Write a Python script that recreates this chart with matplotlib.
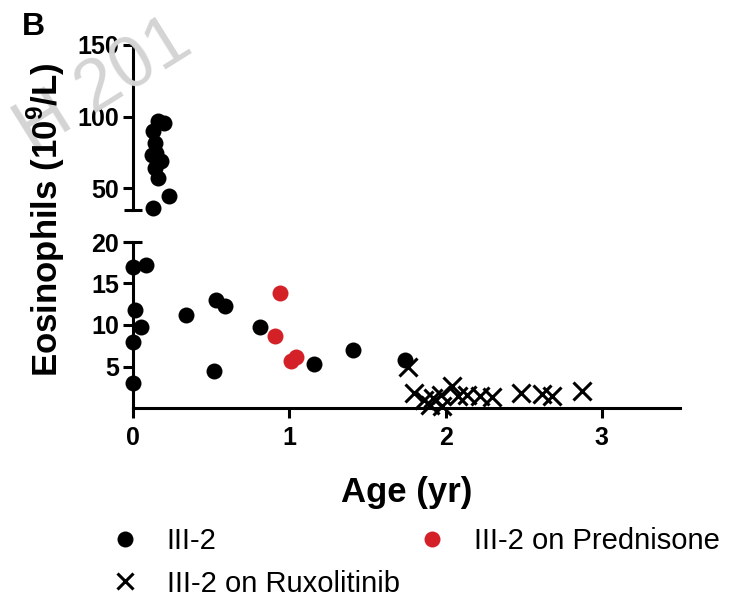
import matplotlib
matplotlib.use("Agg")
import matplotlib.pyplot as plt
from matplotlib.lines import Line2D

plt.rcParams['font.family'] = ['Liberation Sans', 'DejaVu Sans']
plt.rcParams['mathtext.fontset'] = 'custom'
plt.rcParams['mathtext.rm'] = 'Liberation Sans'
plt.rcParams['mathtext.bf'] = 'Liberation Sans:bold'

# ---- data ----
# III-2 (high values, upper segment)
hi_age = [0.16, 0.20, 0.13, 0.14, 0.15, 0.12, 0.18, 0.14, 0.16, 0.23, 0.13]
hi_eos = [96.7, 95.6, 89.8, 81.7, 74.8, 73.6, 69.0, 64.4, 57.4, 44.7, 36.6]
# III-2 (lower segment)
lo_age = [0.00, 0.08, 0.01, 0.05, 0.00, 0.00, 0.34, 0.53, 0.59, 0.52, 0.81, 1.16, 1.41, 1.74]
lo_eos = [17.0, 17.2, 11.8, 9.7, 8.0, 3.0, 11.2, 13.0, 12.3, 4.5, 9.8, 5.3, 7.0, 5.8]
# III-2 on Prednisone
pred_age = [0.94, 0.91, 1.01, 1.04]
pred_eos = [13.9, 8.7, 5.7, 6.2]
# III-2 on Ruxolitinib
rux_age = [1.76, 1.80, 1.86, 1.90, 1.92, 1.97, 1.98, 2.04, 2.08, 2.14, 2.22, 2.30, 2.48, 2.62, 2.68, 2.87]
rux_eos = [5.0, 1.8, 1.0, 0.4, 1.2, 1.6, 0.3, 2.6, 1.4, 1.6, 1.4, 1.3, 1.8, 1.7, 1.4, 2.0]

x_ticks = [0, 1, 2, 3]
lo_ticks = [5, 10, 15, 20]
hi_ticks = [50, 100, 150]
labels = ['III-2', 'III-2 on Prednisone', 'III-2 on Ruxolitinib']

RED = '#d42027'
LW = 2.2
MS = 11.5

fig = plt.figure(figsize=(7.4, 6), dpi=100)
W, H = 740.0, 600.0

# faint watermark (partially visible in the source)
fig.text(104 / W, 1 - 86 / H, 'H 201', fontsize=52, color='#d4d4d4',
         rotation=32, ha='center', va='center', rotation_mode='anchor', zorder=0)

ax_lo = fig.add_axes([133 / W, 1 - 408 / H, 547 / W, (408 - 242) / H])
ax_hi = fig.add_axes([133 / W, 1 - 210 / H, 547 / W, (210 - 45) / H])
for ax in (ax_lo, ax_hi):
    ax.patch.set_alpha(0)

# lower axis
ax_lo.plot(lo_age, lo_eos, 'o', color='black', ms=MS, mew=0, clip_on=False, zorder=3)
ax_lo.plot(pred_age, pred_eos, 'o', color=RED, ms=MS, mew=0, clip_on=False, zorder=3)
ax_lo.plot(rux_age, rux_eos, 'x', color='black', ms=13, mew=LW, clip_on=False, zorder=3)
ax_lo.set_xlim(0, 3.5)
ax_lo.set_ylim(0, 20)
ax_lo.set_xticks(x_ticks)
ax_lo.set_xticklabels([str(t) for t in x_ticks])
ax_lo.set_yticks(lo_ticks)
ax_lo.set_yticklabels([str(t) for t in lo_ticks])
for s in ('top', 'right'):
    ax_lo.spines[s].set_visible(False)
for s in ('left', 'bottom'):
    ax_lo.spines[s].set_linewidth(LW)
ax_lo.tick_params(axis='both', width=LW, length=7, labelsize=18, direction='out')
ax_lo.tick_params(axis='y', pad=3)
ax_lo.tick_params(axis='x', pad=6)
for lab in ax_lo.get_xticklabels() + ax_lo.get_yticklabels():
    lab.set_fontweight('bold')
# break cap at top of lower axis
ax_lo.plot([0], [20], marker='_', ms=13, mew=LW, color='black',
           transform=ax_lo.get_yaxis_transform(), clip_on=False)

# upper axis
ax_hi.plot(hi_age, hi_eos, 'o', color='black', ms=MS, mew=0, clip_on=False, zorder=3)
ax_hi.set_xlim(0, 3.5)
ax_hi.set_ylim(35, 150)
ax_hi.set_yticks(hi_ticks)
ax_hi.set_yticklabels([str(t) for t in hi_ticks])
ax_hi.set_xticks([])
for s in ('top', 'right', 'bottom'):
    ax_hi.spines[s].set_visible(False)
ax_hi.spines['left'].set_linewidth(LW)
ax_hi.tick_params(axis='y', width=LW, length=7, labelsize=18, direction='out', pad=3)
for lab in ax_hi.get_yticklabels():
    lab.set_fontweight('bold')
ax_hi.plot([0], [35], marker='_', ms=13, mew=LW, color='black',
           transform=ax_hi.get_yaxis_transform(), clip_on=False)

# labels
ax_lo.set_xlabel('Age (yr)', fontsize=25, fontweight='bold')
ax_lo.xaxis.set_label_coords(0.5, -0.41)
fig.text(46 / W, 1 - 220 / H, r'Eosinophils (10$^{\mathbf{9}}$/L)', fontsize=25,
         fontweight='bold', rotation=90, ha='center', va='center')
fig.text(22 / W, 1 - 35 / H, 'B', fontsize=23, fontweight='bold', va='baseline')

# legend
handles = [
    Line2D([], [], ls='none', marker='o', color='black', ms=MS, mew=0),
    Line2D([], [], ls='none', marker='x', color='black', ms=12, mew=LW),
    Line2D([], [], ls='none', marker='o', color=RED, ms=MS, mew=0),
]
leg_labels = [labels[0], labels[2], labels[1]]
fig.legend(handles, leg_labels, ncol=2, loc='upper left',
           bbox_to_anchor=(110 / W, 1 - 527 / H), frameon=False, fontsize=21,
           handlelength=1.0, handletextpad=0.94, columnspacing=0.6,
           labelspacing=0.5, borderpad=0, borderaxespad=0)

fig.savefig('out.png', dpi=100)
